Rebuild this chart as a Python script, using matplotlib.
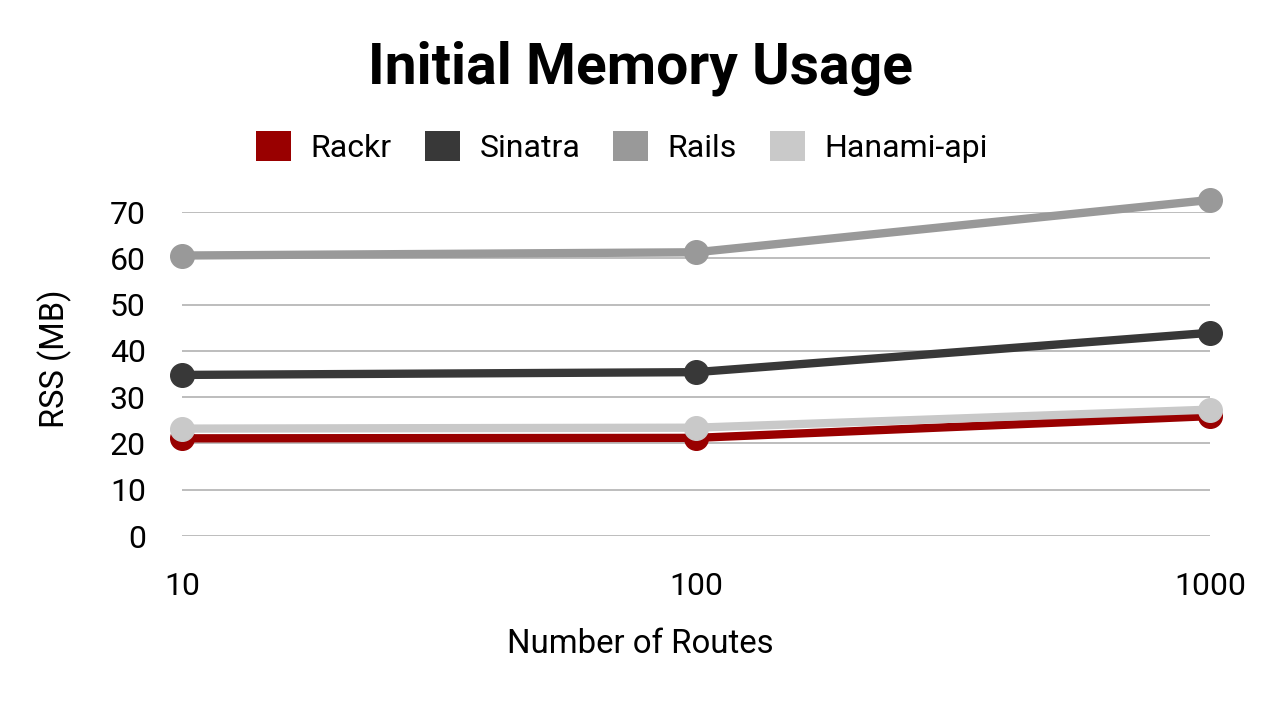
import matplotlib
matplotlib.use("Agg")
import matplotlib.pyplot as plt
from matplotlib.patches import Patch

plt.rcParams['font.family'] = ['Roboto', 'DejaVu Sans']

routes = [10, 100, 1000]
series_names = ["Rackr", "Sinatra", "Rails", "Hanami-api"]
rackr = [21.1, 21.2, 25.9]
sinatra = [34.8, 35.4, 43.9]
rails = [60.6, 61.3, 72.6]
hanami = [23.2, 23.4, 27.3]
colors = ["#990000", "#383838", "#999999", "#c9c9c9"]
y_ticks = [0, 10, 20, 30, 40, 50, 60, 70]
x_tick_labels = ["10", "100", "1000"]

fig = plt.figure(figsize=(12.8, 7.2), dpi=100)
ax = fig.add_axes([182/1280, 1-536/720, (1210-182)/1280, (536-212)/720])

all_series = [rackr, sinatra, rails, hanami]
for i in range(len(all_series)):
    ax.plot(routes, all_series[i], color=colors[i], lw=6, marker='o', ms=17,
            clip_on=False, zorder=3 + i, solid_capstyle='round')

ax.set_xscale('log')
ax.set_xlim(10, 1000)
ax.set_ylim(0, 70)
ax.set_xticks(routes)
ax.set_xticklabels(x_tick_labels)
ax.minorticks_off()
ax.set_yticks(y_ticks)
ax.grid(axis='y', color='#b7b7b7', lw=1.3)
ax.set_axisbelow(True)
for s in ax.spines.values():
    s.set_visible(False)
ax.tick_params(axis='both', length=0, labelsize=23, colors='black')
ax.tick_params(axis='y', pad=26)
ax.tick_params(axis='x', pad=26)

fig.text(55/1280, 1-359/720, "RSS (MB)", rotation=90, ha='center', va='center', fontsize=23.5)
fig.text(640/1280, 1-644/720, "Number of Routes", ha='center', va='center', fontsize=23.7)

fig.text(640/1280, 1-68/720, "Initial Memory Usage", ha='center', va='center',
         fontsize=41, fontweight='bold')

handles = [Patch(facecolor=c, edgecolor='none') for c in colors]
fig.legend(handles, series_names, loc='center', bbox_to_anchor=(622/1280, 1-147/720),
           ncol=4, frameon=False, fontsize=23, handlelength=1.1, handleheight=1.05,
           handletextpad=0.62, columnspacing=1.02)

fig.savefig("out.png", dpi=100)
